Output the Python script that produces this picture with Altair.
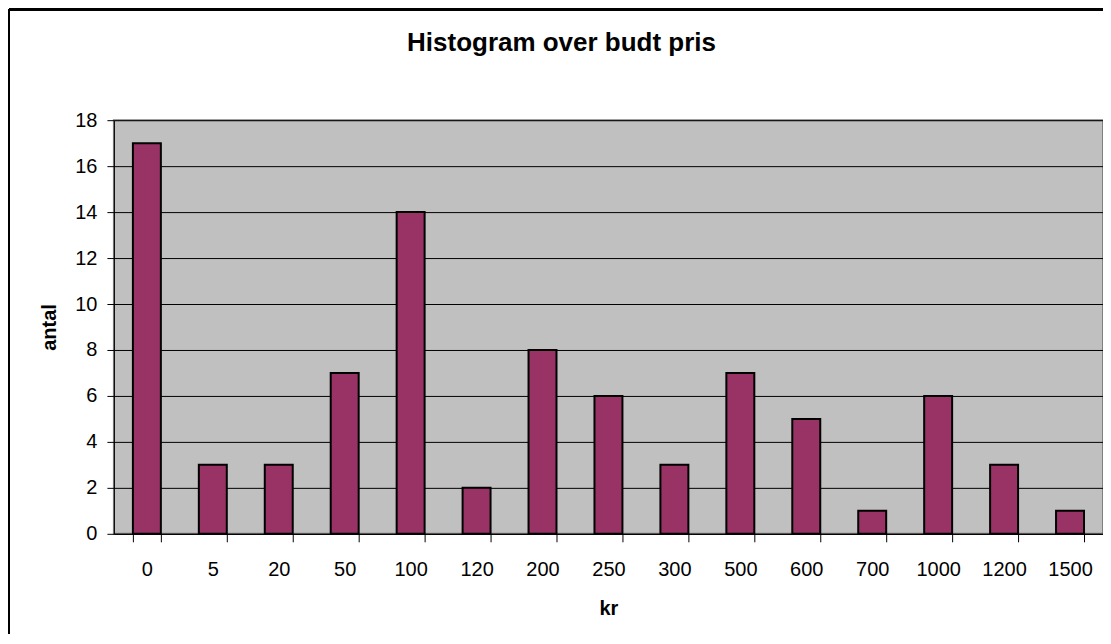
import altair as alt
import pandas as pd

categories = ["0", "5", "20", "50", "100", "120", "200", "250", "300", "500", "600", "700", "1000", "1200", "1500"]
counts = [17, 3, 3, 7, 14, 2, 8, 6, 3, 7, 5, 1, 6, 3, 1]
y_ticks = [0, 2, 4, 6, 8, 10, 12, 14, 16, 18]

df = pd.DataFrame({"kr": categories, "antal": counts})

FONT = "Liberation Sans"
W, H = 990, 414

bars = alt.Chart(df).mark_bar(
    color="#993366", stroke="black", strokeWidth=2
).encode(
    x=alt.X("kr:N", sort=categories,
            scale=alt.Scale(paddingInner=0.576, paddingOuter=0.288),
            axis=alt.Axis(title="kr", labelAngle=0, tickBand="extent",
                          labelFontSize=20, labelFont=FONT, labelColor="black",
                          labelPadding=18, tickSize=8, tickColor="black",
                          domainColor="black", grid=False,
                          titleFont=FONT, titleFontSize=20, titleFontWeight="bold",
                          titleColor="black", titleX=W / 2, titleY=81,
                          titleBaseline="alphabetic", titleAlign="center")),
    y=alt.Y("antal:Q", scale=alt.Scale(domain=[0, 18], nice=False),
            axis=alt.Axis(title="antal", values=y_ticks, tickSize=7, tickColor="black",
                          labelFontSize=20, labelFont=FONT, labelColor="black",
                          labelPadding=10, domainColor="black",
                          grid=True, gridColor="black", gridWidth=1, gridOpacity=1,
                          titleFont=FONT, titleFontSize=20, titleFontWeight="bold",
                          titleColor="black", titleAngle=-90, titleX=-58, titleY=H / 2,
                          titleBaseline="alphabetic", titleAlign="center")),
)

frame_left = alt.Chart(df).mark_rule(color="black", strokeWidth=2).encode(
    x=alt.value(-105), y=alt.value(-111), y2=alt.value(H + 100)
)
frame_top = alt.Chart(df).mark_rule(color="black", strokeWidth=2).encode(
    x=alt.value(-105), x2=alt.value(W + 10), y=alt.value(-111)
)

chart = alt.layer(bars, frame_left, frame_top).properties(
    width=W, height=H,
    title=alt.TitleParams("Histogram over budt pris", font=FONT, fontSize=26,
                          fontWeight="bold", color="black", anchor="middle",
                          dx=-47, dy=69, offset=0, baseline="alphabetic"),
    autosize=alt.AutoSizeParams(type="none"),
    padding={"left": 106, "top": 112, "right": 0, "bottom": 100},
    background="white",
).configure_view(
    fill="#C0C0C0", stroke="#808080", strokeWidth=2
)

chart.save("out.html", embed_options={"renderer": "svg", "actions": False})
